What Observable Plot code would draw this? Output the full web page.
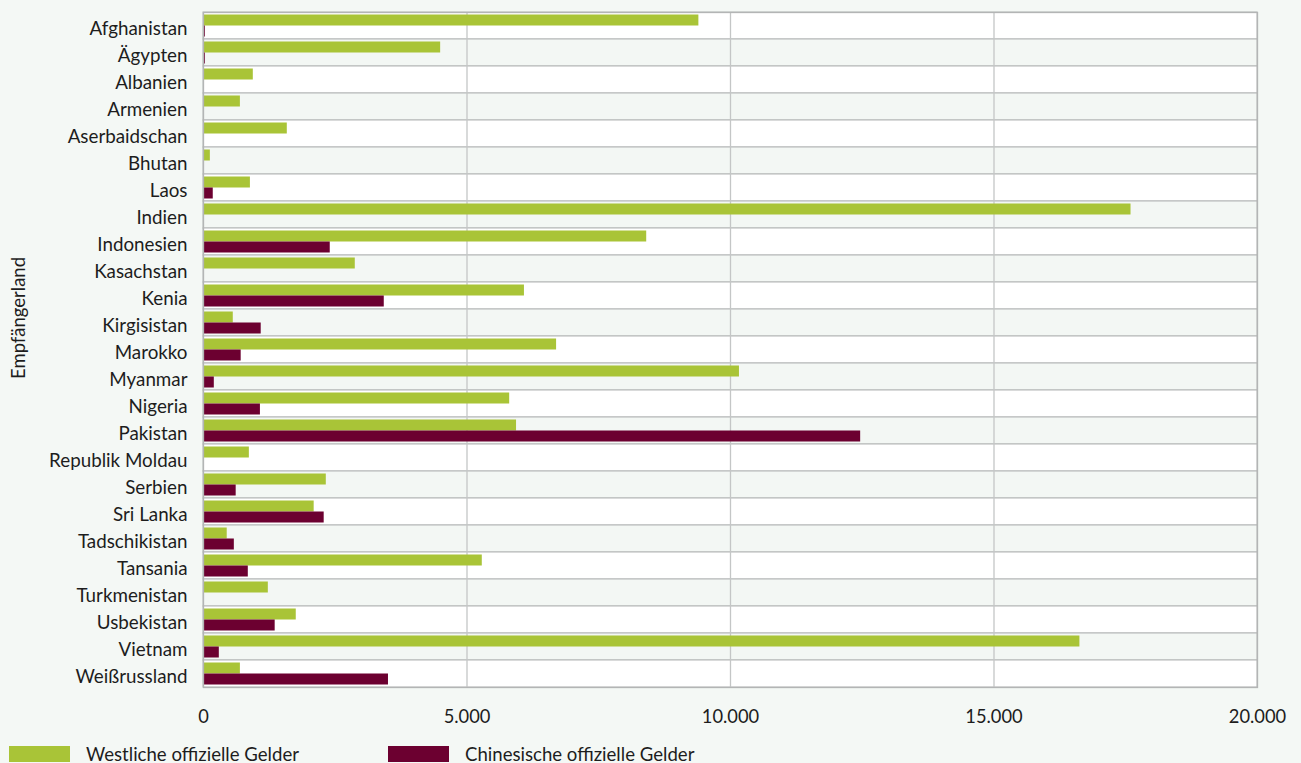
<!DOCTYPE html>
<html>
<head>
<meta charset="utf-8">
<script src="https://cdn.jsdelivr.net/npm/d3@7"></script>
<script src="https://cdn.jsdelivr.net/npm/@observablehq/plot@0.6"></script>
<style>
  html, body { margin: 0; padding: 0; background: #f4f8f5; }
  body { width: 1301px; height: 763px; overflow: hidden; font-family: Lato, "Open Sans", sans-serif; color: #1d1d1d; }
  #chart svg { display: block; }
  .legend { position: relative; height: 25px; font-size: 18.6px; }
  .legend .item { position: absolute; top: 8px; display: flex; align-items: center; height: 16px; }
  .legend .sw { width: 61px; height: 16px; margin-right: 16px; }
</style>
</head>
<body>
<div id="chart"></div>
<div class="legend" id="legend"></div>
<script>
const countries = ["Afghanistan","Ägypten","Albanien","Armenien","Aserbaidschan","Bhutan","Laos","Indien","Indonesien","Kasachstan","Kenia","Kirgisistan","Marokko","Myanmar","Nigeria","Pakistan","Republik Moldau","Serbien","Sri Lanka","Tadschikistan","Tansania","Turkmenistan","Usbekistan","Vietnam","Weißrussland"];
const western = [9400, 4500, 945, 700, 1590, 130, 890, 17600, 8410, 2880, 6090, 565, 6700, 10170, 5810, 5940, 870, 2330, 2100, 450, 5290, 1230, 1760, 16630, 700];
const chinese = [35, 35, 0, 15, 10, 0, 185, 0, 2405, 0, 3430, 1095, 715, 205, 1080, 12470, 0, 620, 2290, 585, 850, 0, 1360, 300, 3510];
const seriesNames = ["Westliche offizielle Gelder", "Chinesische offizielle Gelder"];
const xTicks = [0, 5000, 10000, 15000, 20000];
const gridTicks = [5000, 10000, 15000];

const GREEN = "#a9c437";
const MAROON = "#6c0030";

const rows = countries.map((c, i) => ({country: c, i, western: western[i], chinese: chinese[i]}));
const de = d3.formatLocale({decimal: ",", thousands: ".", grouping: [3], currency: ["", " €"]});
const fmt = de.format(",");

const chart = Plot.plot({
  width: 1301,
  height: 738,
  marginLeft: 203,
  marginRight: 44,
  marginTop: 12,
  marginBottom: 51,
  style: {fontFamily: "Lato, 'Open Sans', sans-serif", fontSize: "18px", color: "#1d1d1d", background: "transparent"},
  x: {domain: [0, 20000]},
  y: {domain: countries, padding: 0},
  marks: [
    Plot.barX(rows, {y: "country", x1: 0, x2: 20000, fill: d => d.i % 2 ? "#f3f7f4" : "#ffffff", stroke: "#b3b5b5", strokeWidth: 1}),
    Plot.ruleX(gridTicks, {stroke: "#c4c6c6", strokeWidth: 1.3}),
    Plot.barX(rows, {y: "country", x: "western", fill: GREEN, insetTop: 2.5, insetBottom: 13.5}),
    Plot.barX(rows, {y: "country", x: "chinese", fill: MAROON, insetTop: 13.5, insetBottom: 2.5}),
    Plot.frame({stroke: "#b3b5b5", strokeWidth: 1.3}),
    Plot.axisY({tickSize: 0, tickPadding: 16, label: null, fontSize: 18.8, dy: 3, fill: "#1d1d1d"}),
    Plot.axisX({ticks: xTicks, tickFormat: fmt, tickSize: 0, tickPadding: 22, label: null, fontSize: 18.3, fill: "#1d1d1d"}),
    Plot.text(["Empfängerland"], {frameAnchor: "left", textAnchor: "middle", dx: -184, dy: -32, rotate: -90, fontSize: 18.5, fill: "#1d1d1d"})
  ]
});
document.getElementById("chart").appendChild(chart);

const legend = document.getElementById("legend");
const colors = [GREEN, MAROON];
const lefts = [9, 388];
seriesNames.forEach((name, k) => {
  const item = document.createElement("div");
  item.className = "item";
  item.style.left = lefts[k] + "px";
  const sw = document.createElement("div");
  sw.className = "sw";
  sw.style.background = colors[k];
  const t = document.createElement("span");
  t.textContent = name;
  item.appendChild(sw);
  item.appendChild(t);
  legend.appendChild(item);
});
</script>
</body>
</html>
